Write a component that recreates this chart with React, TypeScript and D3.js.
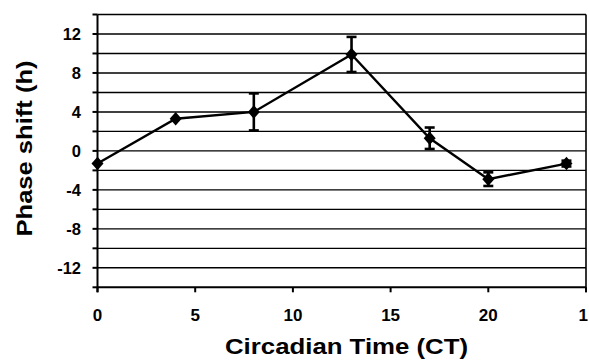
import { useEffect, useRef } from "react";
import * as d3 from "d3";

// circadian time of each pulse
const CT_VALUES = [0, 4, 8, 13, 17, 20, 24];
// mean phase shift (h)
const SHIFT_VALUES = [-1.3, 3.3, 4.0, 9.9, 1.3, -2.9, -1.3];
// error bar half-length (h)
const SHIFT_ERRORS = [0, 0, 1.9, 1.8, 1.1, 0.7, 0.3];

const X_TICKS = [0, 5, 10, 15, 20, 25];
const X_TICK_LABELS = ["0", "5", "10", "15", "20", "1"];
const Y_LABEL_TICKS = [12, 8, 4, 0, -4, -8, -12];
const Y_GRID = d3.range(-14, 15, 2);

const W = 589;
const H = 362;
const M = { left: 97.5, right: 3, top: 14.5, bottom: 74.7 };
const FONT = "'Liberation Sans', Arial, Helvetica, sans-serif";

export default function App() {
  const svgRef = useRef<SVGSVGElement | null>(null);

  useEffect(() => {
    const svg = d3.select(svgRef.current);
    svg.selectAll("*").remove();

    const x = d3.scaleLinear().domain([0, 25]).range([M.left, W - M.right]);
    const y = d3.scaleLinear().domain([-14, 14]).range([H - M.bottom, M.top]);

    const g = svg.append("g");

    // horizontal grid
    g.selectAll(".grid")
      .data(Y_GRID.filter((v) => v > -14))
      .join("line")
      .attr("x1", x(0))
      .attr("x2", x(25))
      .attr("y1", (d) => y(d))
      .attr("y2", (d) => y(d))
      .attr("stroke", "#000")
      .attr("stroke-width", 1.4);

    // right border
    g.append("line")
      .attr("x1", x(25))
      .attr("x2", x(25))
      .attr("y1", y(14))
      .attr("y2", y(-14) + 5)
      .attr("stroke", "#000")
      .attr("stroke-width", 1.6);

    // axes
    g.append("line")
      .attr("x1", x(0))
      .attr("x2", x(0))
      .attr("y1", y(14))
      .attr("y2", y(-14) + 5)
      .attr("stroke", "#000")
      .attr("stroke-width", 2);
    g.append("line")
      .attr("x1", x(0))
      .attr("x2", x(25))
      .attr("y1", y(-14))
      .attr("y2", y(-14))
      .attr("stroke", "#000")
      .attr("stroke-width", 2);

    // y ticks
    g.selectAll(".ytick")
      .data(Y_GRID)
      .join("line")
      .attr("x1", x(0) - 5)
      .attr("x2", x(0))
      .attr("y1", (d) => y(d))
      .attr("y2", (d) => y(d))
      .attr("stroke", "#000")
      .attr("stroke-width", 2);

    // x ticks
    g.selectAll(".xtick")
      .data(X_TICKS)
      .join("line")
      .attr("x1", (d) => x(d))
      .attr("x2", (d) => x(d))
      .attr("y1", y(-14))
      .attr("y2", y(-14) + 5)
      .attr("stroke", "#000")
      .attr("stroke-width", 2);

    g.selectAll(".ylab")
      .data(Y_LABEL_TICKS)
      .join("text")
      .attr("x", 81)
      .attr("y", (d) => y(d))
      .attr("dy", "0.36em")
      .attr("text-anchor", "end")
      .attr("font-family", FONT)
      .attr("font-weight", 700)
      .attr("font-size", 16.5)
      .attr("fill", "#000")
      .text((d) => String(d));

    const lastTick = X_TICKS.length - 1;
    g.selectAll(".xlab")
      .data(X_TICKS)
      .join("text")
      .attr("x", (d, i) => (i === lastTick ? W - 1 : x(d)))
      .attr("y", 320.5)
      .attr("text-anchor", (_, i) => (i === lastTick ? "end" : "middle"))
      .attr("font-family", FONT)
      .attr("font-weight", 700)
      .attr("font-size", 17)
      .attr("fill", "#000")
      .text((_, i) => X_TICK_LABELS[i]);

    // data line
    const pts = CT_VALUES.map((c, i) => ({
      c,
      v: SHIFT_VALUES[i],
      e: SHIFT_ERRORS[i],
    }));
    const line = d3
      .line<{ c: number; v: number }>()
      .x((d) => x(d.c))
      .y((d) => y(d.v));
    g.append("path")
      .attr("d", line(pts))
      .attr("fill", "none")
      .attr("stroke", "#000")
      .attr("stroke-width", 2.4);

    // error bars
    const eb = g.append("g").attr("stroke", "#000").attr("stroke-width", 2.6);
    pts
      .filter((d) => d.e > 0)
      .forEach((d) => {
        const cx = x(d.c);
        eb.append("line")
          .attr("x1", cx)
          .attr("x2", cx)
          .attr("y1", y(d.v + d.e))
          .attr("y2", y(d.v - d.e));
        [d.v + d.e, d.v - d.e].forEach((v) => {
          eb.append("line")
            .attr("x1", cx - 5)
            .attr("x2", cx + 5)
            .attr("y1", y(v))
            .attr("y2", y(v));
        });
      });

    // diamond markers
    const diamond = "M0,-6.8L6,0L0,6.8L-6,0Z";
    g.selectAll(".pt")
      .data(pts)
      .join("path")
      .attr("transform", (d) => `translate(${x(d.c)},${y(d.v)})`)
      .attr("d", diamond)
      .attr("fill", "#000");

    // axis titles
    svg
      .append("text")
      .attr("x", 346.5)
      .attr("y", 354)
      .attr("text-anchor", "middle")
      .attr("font-family", FONT)
      .attr("font-weight", 700)
      .attr("font-size", 22)
      .attr("textLength", 243)
      .attr("lengthAdjust", "spacingAndGlyphs")
      .attr("fill", "#000")
      .text("Circadian Time (CT)");

    svg
      .append("text")
      .attr("transform", "translate(32,148.5) rotate(-90)")
      .attr("text-anchor", "middle")
      .attr("font-family", FONT)
      .attr("font-weight", 700)
      .attr("font-size", 22)
      .attr("textLength", 176)
      .attr("lengthAdjust", "spacingAndGlyphs")
      .attr("fill", "#000")
      .text("Phase shift (h)");
  }, []);

  return (
    <svg
      ref={svgRef}
      width={W}
      height={H}
      viewBox={`0 0 ${W} ${H}`}
      style={{ position: "absolute", left: 0, top: 0, background: "#fff" }}
    />
  );
}
